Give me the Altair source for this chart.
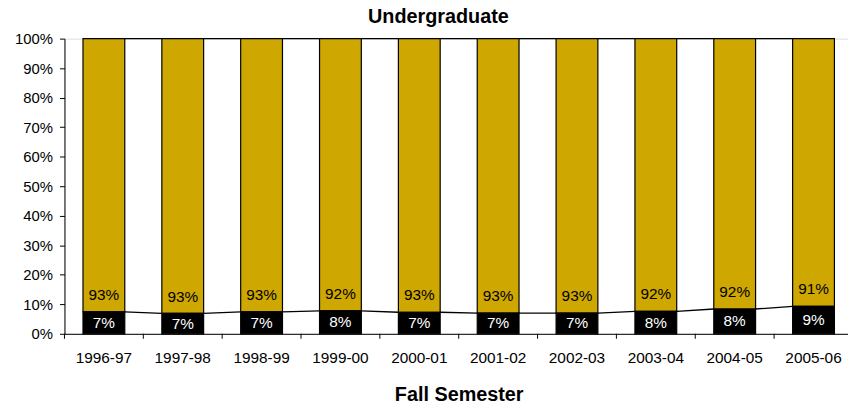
import altair as alt
import pandas as pd

years = ["1996-97", "1997-98", "1998-99", "1999-00", "2000-01",
         "2001-02", "2002-03", "2003-04", "2004-05", "2005-06"]
black_pct = [7.4, 6.9, 7.4, 7.8, 7.3, 7.0, 7.0, 7.6, 8.4, 9.3]
gold_pct = [92.6, 93.1, 92.6, 92.2, 92.7, 93.0, 93.0, 92.4, 91.6, 90.7]
y_ticks = [0, 10, 20, 30, 40, 50, 60, 70, 80, 90, 100]

GOLD = "#CEA700"
FONT = "Liberation Sans"

df = pd.DataFrame({"year": years, "black": black_pct, "gold": gold_pct})
df["top"] = df["black"] + df["gold"]
df["mid"] = df["black"] / 2

rules_df = pd.concat([
    pd.DataFrame({"year": years[:-1], "next": years[1:],
                  "v": black_pct[:-1], "nv": black_pct[1:]}),
    pd.DataFrame({"year": years[:-1], "next": years[1:],
                  "v": list(df["top"][:-1]), "nv": list(df["top"][1:])}),
], ignore_index=True)

x_scale = alt.Scale(domain=years, paddingInner=0.47, paddingOuter=0.235, range=[0, 796])
x_step_scale = alt.Scale(domain=years, paddingInner=0, paddingOuter=0, range=[0, 796])
y_scale = alt.Scale(domain=[0, 100], nice=False)

x_axis = alt.Axis(
    title="Fall Semester", labelAngle=0, ticks=False, bandPosition=0.5,
    labelFont=FONT, labelFontSize=15.5, labelColor="black", labelPadding=17,
    labelOverlap=False, domainColor="black",
    titleFont=FONT, titleFontSize=20, titleFontWeight="bold", titleColor="black",
    titlePadding=19,
)
y_axis = alt.Axis(
    values=y_ticks, labelExpr="datum.value + '%'", title=None, grid=False,
    labelOverlap=False,
    labelFont=FONT, labelFontSize=15, labelColor="black", labelPadding=7,
    tickSize=5, tickColor="black", domainColor="black",
)


def xq(bp=None):
    kw = {} if bp is None else {"bandPosition": bp}
    return alt.X("year:N", scale=x_scale, sort=years, axis=None, **kw)


def yq(field):
    return alt.Y(f"{field}:Q", scale=y_scale, axis=y_axis)


base = alt.Chart(df)

gold_bar = base.mark_bar(color=GOLD, stroke="black", strokeWidth=1.2).encode(
    x=xq(), y=yq("black"), y2="top:Q"
)
black_bar = base.mark_bar(color="black", stroke="black", strokeWidth=1.2).encode(
    x=xq(), y=yq("black"), y2=alt.datum(0)
)
rules = alt.Chart(rules_df).mark_rule(color="black", strokeWidth=1.3).encode(
    x=xq(bp=1),
    x2=alt.X2("next:N", bandPosition=0),
    y=yq("v"),
    y2="nv:Q",
)
gold_text = base.transform_calculate(
    lbl="format(datum.gold, '.0f') + '%'"
).mark_text(font=FONT, fontSize=15.5, color="black", baseline="alphabetic", dy=-12).encode(
    x=xq(), y=yq("black"), text="lbl:N"
)
black_text = base.transform_calculate(
    lbl="format(datum.black, '.0f') + '%'"
).mark_text(font=FONT, fontSize=15.5, color="white", baseline="middle").encode(
    x=xq(), y=yq("mid"), text="lbl:N"
)

main = alt.layer(gold_bar, black_bar, rules, gold_text, black_text)

# category axis on a step scale: labels centred, tick marks at category boundaries
xticks = base.mark_rule(color="black", strokeWidth=1).encode(
    x=alt.X("year:N", scale=x_step_scale, sort=years, bandPosition=0, axis=x_axis),
    y=alt.value(298), y2=alt.value(303),
)

chart = alt.layer(main, xticks).resolve_scale(x="independent").properties(
    width=791, height=298,
    title=alt.TitleParams("Undergraduate", font=FONT, fontSize=20, fontWeight="bold",
                          color="black", dx=-18, dy=-1),
    autosize=alt.AutoSizeParams(type="none"),
    padding={"left": 57, "top": 29, "right": 0, "bottom": 74},
).configure_view(stroke="#999999", strokeWidth=1).configure(background="white")

chart.save("out.html", embed_options={"renderer": "svg", "actions": False})
